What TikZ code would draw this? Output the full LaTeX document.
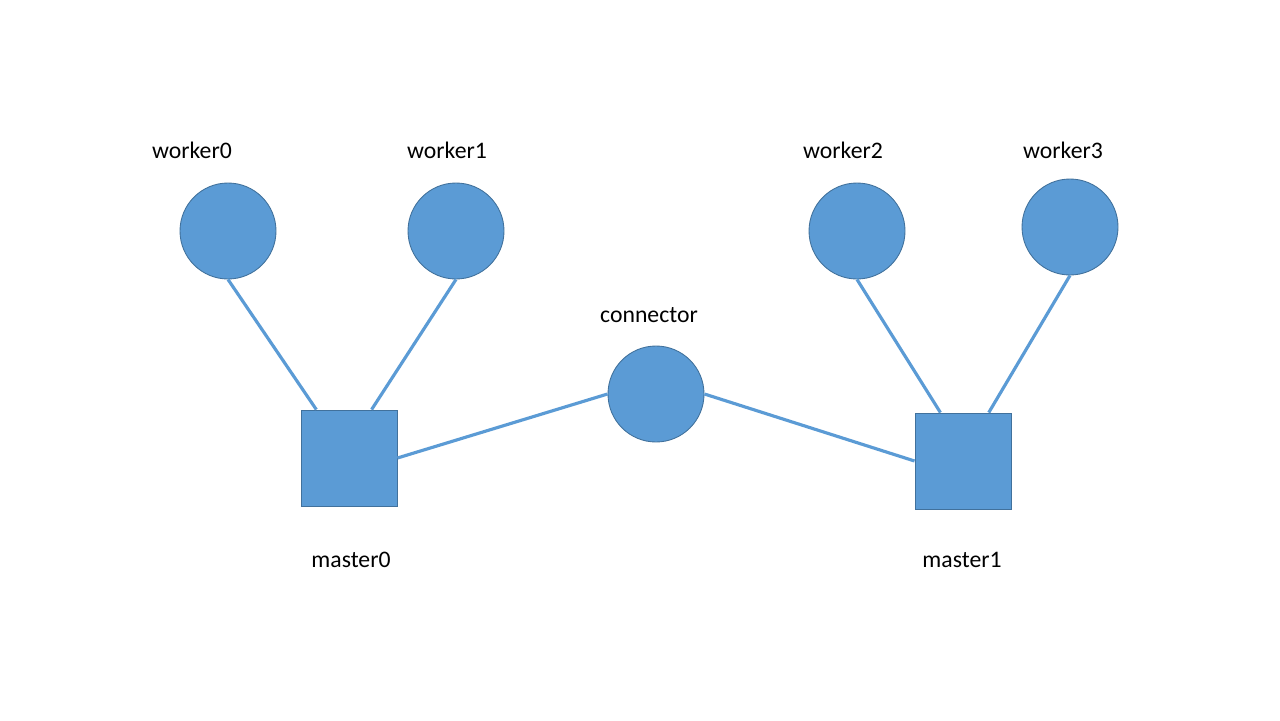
\documentclass[tikz,border=0pt]{standalone}
\usepackage{fontspec}
\setmainfont{Carlito}
\usetikzlibrary{positioning}
\definecolor{nodefill}{HTML}{5B9BD5}
\definecolor{nodeline}{HTML}{41719C}
\tikzset{
	worker/.style={circle,fill=nodefill,draw=nodeline,line width=0.5pt,minimum size=96*0.02cm,inner sep=0pt},
	master/.style={rectangle,fill=nodefill,draw=nodeline,line width=0.5pt,minimum size=96*0.02cm,inner sep=0pt},
	link/.style={draw=nodefill,line width=1.8pt},
	lbl/.style={font=\fontsize{13.5}{15}\selectfont,inner sep=0pt}
}
\begin{document}
\begin{tikzpicture}[x=0.02cm,y=-0.02cm]
		\useasboundingbox (0,0) rectangle (1280,720);
		\node[worker] (W0) at (228,231) {};
		\node[worker] (W1) at (456,231) {};
		\node[worker] (W2) at (857,231) {};
		\node[worker] (W3) at (1070,227) {};
		\node[worker] (C) at (656,394) {};
		\node[master] (M0) at (349,458) {};
		\node[master] (M1) at (963,461) {};
		\node[lbl] (L0) at (192,150) {worker0};
		\node[lbl] (L1) at (447,150) {worker1};
		\node[lbl] (L2) at (843,150) {worker2};
		\node[lbl] (L3) at (1063,150) {worker3};
		\node[lbl] (LC) at (649,315) {connector};
		\node[lbl] (LM0) at (351,560) {master0};
		\node[lbl] (LM1) at (962,560) {master1};
		\draw[link](W0.south)--(M0.124);
		\draw[link](W1.south)--(M0.65);
		\draw[link](C.west)--(M0.east);
		\draw[link](C.east)--(M1.west);
		\draw[link](W2.south)--(M1.115);
		\draw[link](W3.south)--(M1.62);
		%\draw[link](M0)--(M1);
		\end{tikzpicture}
\end{document}
